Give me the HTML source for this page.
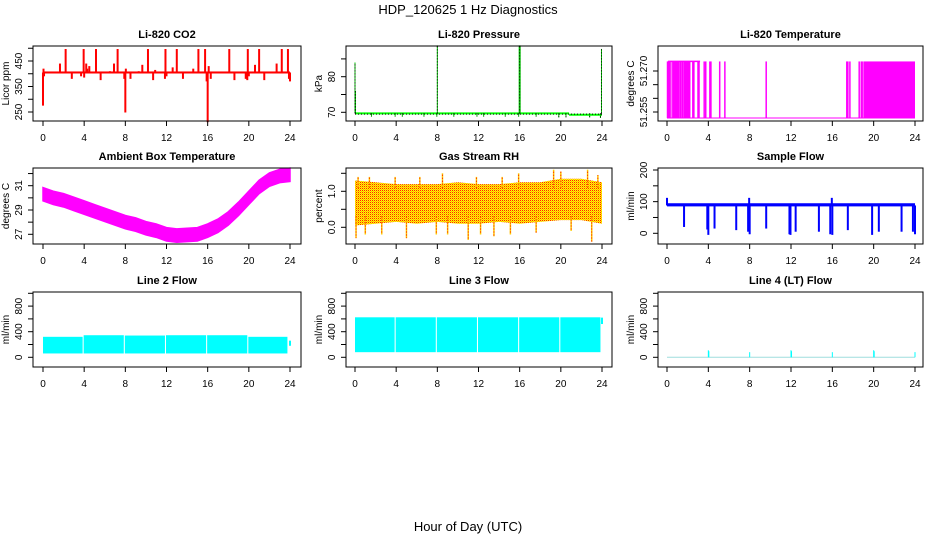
<!DOCTYPE html>
<html><head><meta charset="utf-8">
<style>
html,body{margin:0;padding:0;background:#fff;}
svg{display:block;font-family:"Liberation Sans",Arial,sans-serif;}
</style></head>
<body>
<svg id="chart" width="936" height="540" viewBox="0 0 936 540" xmlns="http://www.w3.org/2000/svg">
<defs>
<pattern id="rhpat" width="2" height="2" patternUnits="userSpaceOnUse">
<rect width="2" height="2" fill="#ffff00"/><rect width="1" height="1" fill="#ff2000"/><rect x="1" y="1" width="1" height="1" fill="#ffb000"/>
</pattern>
</defs>
<text x="468" y="14" text-anchor="middle" font-size="13">HDP_120625  1 Hz Diagnostics</text>
<text x="468" y="531" text-anchor="middle" font-size="13">Hour of Day (UTC)</text>
<g id="panels"></g>
</svg>
<script>
// ---- shared data ----
var hourTicks = [0,4,8,12,16,20,24];
// CO2
var co2Base = 405;
var co2SpikeHours = [0.0,0.05,0.1,1.65,2.2,2.8,3.7,3.95,4.0,4.2,4.3,4.5,5.15,5.6,6.5,6.9,7.25,7.9,8.0,8.05,8.5,9.3,9.65,10.2,10.7,10.9,11.85,11.9,12.0,12.6,13.0,13.6,14.6,15.1,15.75,15.9,16.0,16.1,16.3,18.1,18.6,19.7,19.85,19.9,20.0,20.6,21.0,21.5,22.7,23.2,23.8,23.9,24.0];
var co2SpikeVals  = [275,420,390,440,497,380,390,497,385,440,420,430,497,375,410,440,497,380,248,420,380,410,435,497,375,415,380,497,390,425,497,380,420,497,497,370,210,430,380,497,375,380,375,497,390,435,497,375,440,497,497,380,370];
// Pressure
var presBase = 69.7;
var presSpikeHours = [0.0,0.05,1.6,3.9,4.6,6.7,7.95,8.0,9.6,11.85,12.5,14.6,15.9,16.0,17.6,19.8,20.5,22.8,23.85,23.95];
var presSpikeVals  = [84,76,68.8,68.8,68.8,68.8,68.8,88.8,68.8,68.8,68.8,68.8,68.8,88.8,68.8,68.6,68.6,68.6,68.4,87.8];
// Li-820 temperature
var litLow = 51.2528, litHigh = 51.2735;
var litHours = [0.05,0.1,0.15,0.2,0.3,0.5,0.65,0.75,0.85,0.95,1.05,1.15,1.3,1.45,1.55,1.7,1.8,1.9,2.0,2.1,2.2,2.5,2.6,3.0,3.1,3.6,3.75,4.15,4.25,5.1,5.6,9.6,17.4,17.5,17.7,18.6,18.8,18.95];
var litDenseStart = 19.05, litDenseEnd = 24.0;
// Ambient box temperature
var ambHours = [0,1,2,3,4,5,6,7,8,9,10,11,12,13,14,15,16,17,18,19,20,21,22,23,24];
var ambMid   = [30.3,30.0,29.8,29.5,29.2,28.9,28.6,28.3,28.0,27.8,27.5,27.3,27.0,26.9,26.95,27.0,27.3,27.7,28.3,29.1,30.0,30.9,31.5,31.8,31.9];
// Gas stream RH
var rhHours = [0,2,4,6,8,10,12,14,16,18,20,22,24];
var rhUpper = [1.3,1.25,1.2,1.2,1.2,1.25,1.2,1.2,1.25,1.25,1.35,1.35,1.25];
var rhLower = [0.05,0.1,0.15,0.1,0.15,0.1,0.1,0.15,0.1,0.15,0.2,0.2,0.1];
var rhSpikeHours = [0.1,0.3,1.0,1.4,2.6,3.9,5.0,6.3,7.9,8.5,9.0,11.0,11.8,12.2,13.5,14.3,15.1,15.9,17.6,19.3,20.0,21.0,22.6,23.0,23.6];
var rhSpikeVals  = [-0.3,1.4,-0.2,1.4,-0.2,1.4,-0.3,1.4,-0.2,1.5,-0.2,-0.35,1.4,-0.2,-0.25,1.4,-0.2,1.5,-0.15,1.6,1.55,-0.1,1.6,-0.4,1.45];
// Sample flow
var sfBase = [85,95];
var sfDipHours = [0.0,1.65,3.9,4.0,4.6,6.7,7.85,7.95,8.0,9.6,11.85,11.95,12.45,14.7,15.8,15.95,16.0,17.5,19.85,20.5,22.7,23.8,24.0];
var sfDipVals  = [112,20,12,-5,15,10,5,112,-3,15,-3,-5,5,5,-3,112,-5,10,-5,5,5,5,-3];
// Line 2 flow
var l2Start = [0.0,3.95,7.95,11.95,15.95,19.95];
var l2End   = [3.85,7.85,11.85,15.85,19.85,23.75];
var l2Top   = [320,345,340,345,345,320];
var l2Bottom = 60;
// Line 3 flow
var l3Start = [0.0,3.95,7.95,11.95,15.95,19.95];
var l3End   = [3.85,7.85,11.85,15.85,19.85,23.85];
var l3Top   = [625,625,625,625,625,625];
var l3Bottom = 80;
// Line 4 flow
var l4SpikeHours = [4.0,4.05,8.0,12.0,12.05,16.0,20.0,20.05,24.0];
var l4SpikeVals  = [110,95,80,110,95,80,110,95,80];

// ---- layout ----
var cols = [{bl:33,br:301,x0:43,x24:290},{bl:346,br:612,x0:355,x24:602},{bl:658,br:923,x0:667,x24:915}];
var rows = [{t:46,b:121},{t:168,b:244},{t:292,b:367}];
var NS = "http://www.w3.org/2000/svg";
var root = document.getElementById('panels');
function mk(tag, attrs, parent){ var e=document.createElementNS(NS,tag); for(var k in attrs) e.setAttribute(k,attrs[k]); (parent||root).appendChild(e); return e; }

function panel(ci, ri, title, ylab, yref, yticks, ylabels, name){
  var c=cols[ci], r=rows[ri];
  var g=mk('g',{});
  
  
  var xs=function(h){return c.x0+(c.x24-c.x0)*h/24;};
  var ys=function(v){return yref[1]+(v-yref[0])*(yref[3]-yref[1])/(yref[2]-yref[0]);};
  var plot=mk('g',{},g);
  
  
  var box=mk('rect',{x:c.bl,y:r.t,width:c.br-c.bl,height:r.b-r.t,fill:'none',stroke:'#000','stroke-width':1},g);
  
  
  var t=mk('text',{x:(c.bl+c.br)/2,y:r.t-8,'text-anchor':'middle','font-size':11,'font-weight':'bold'},g);
  t.textContent=title;
  
  
  var xa=mk('g',{},g);
  
  
  mk('line',{x1:xs(0),x2:xs(24),y1:r.b,y2:r.b,stroke:'#000'},xa);
  hourTicks.forEach(function(h){
    mk('line',{x1:xs(h),x2:xs(h),y1:r.b,y2:r.b+5,stroke:'#000'},xa);
    var tl=mk('text',{x:xs(h),y:r.b+20,'text-anchor':'middle','font-size':10},xa);
    tl.textContent=h;
    
    
  });
  var ya=mk('g',{},g);
  
  
  mk('line',{x1:c.bl,x2:c.bl,y1:ys(yticks[0]),y2:ys(yticks[yticks.length-1]),stroke:'#000'},ya);
  yticks.forEach(function(v){ mk('line',{x1:c.bl-5,x2:c.bl,y1:ys(v),y2:ys(v),stroke:'#000'},ya); });
  ylabels.forEach(function(l){
    var y=ys(parseFloat(l)), x=c.bl-11;
    var tl=mk('text',{x:x,y:y,'text-anchor':'middle','font-size':10,transform:'rotate(-90 '+x+' '+y+')'},ya);
    tl.textContent=l;
    
    
  });
  var yx=c.bl-24, yy=(r.t+r.b)/2;
  var yl=mk('text',{x:yx,y:yy,'text-anchor':'middle','font-size':10,transform:'rotate(-90 '+yx+' '+yy+')'},g);
  yl.textContent=ylab;
  
  
  return {g:plot,xs:xs,ys:ys};
}
function vline(p,h,v0,v1,col,w,dash){ var a={x1:p.xs(h),x2:p.xs(h),y1:p.ys(v0),y2:p.ys(v1),stroke:col,'stroke-width':w||1}; if(dash)a['stroke-dasharray']=dash; return mk('line',a,p.g); }

// CO2
var p=panel(0,0,'Li-820 CO2','Licor ppm',[250,112,450,61],[250,300,350,400,450,500],['250','350','450'],'co2');
co2SpikeHours.forEach(function(h,i){ vline(p,h,co2Base,co2SpikeVals[i],'#ff0000',2); });
mk('rect',{x:p.xs(0),y:p.ys(co2Base+4),width:p.xs(24)-p.xs(0),height:p.ys(co2Base-4)-p.ys(co2Base+4),fill:'#ff0000'},p.g);

// Pressure
p=panel(1,0,'Li-820 Pressure','kPa',[70,112.3,80,76.7],[70,75,80,85],['70','80'],'pressure');
mk('line',{x1:p.xs(0),x2:p.xs(20.8),y1:p.ys(presBase),y2:p.ys(presBase),stroke:'#00ff00','stroke-width':2},p.g);
mk('line',{x1:p.xs(20.8),x2:p.xs(24),y1:p.ys(presBase-0.4),y2:p.ys(presBase-0.4),stroke:'#00ff00','stroke-width':2},p.g);
mk('line',{x1:p.xs(0),x2:p.xs(24),y1:p.ys(presBase-0.2),y2:p.ys(presBase-0.2),stroke:'#000','stroke-width':1,'stroke-dasharray':'1,2'},p.g);
presSpikeHours.forEach(function(h,i){ vline(p,h,presBase,presSpikeVals[i],'#00c000',i==13?2:1); vline(p,h,presBase,presSpikeVals[i],'#000',1,'1,2'); });

// Li-820 Temperature
p=panel(2,0,'Li-820 Temperature','degrees C',[51.255,112,51.270,71],[51.255,51.26,51.265,51.27],['51.255','51.270'],'li820-temperature');
mk('line',{x1:p.xs(0),x2:p.xs(24),y1:p.ys(litLow),y2:p.ys(litLow),stroke:'#ff00ff'},p.g);
litHours.forEach(function(h){ vline(p,h,litLow,litHigh,'#ff00ff',1.5); });
mk('rect',{x:p.xs(litDenseStart),y:p.ys(litHigh),width:p.xs(litDenseEnd)-p.xs(litDenseStart),height:p.ys(litLow)-p.ys(litHigh),fill:'#ff00ff'},p.g);
mk('line',{x1:p.xs(0.1),x2:p.xs(3.2),y1:p.ys(litHigh),y2:p.ys(litHigh),stroke:'#ff00ff','stroke-width':1.5},p.g);

// Ambient
p=panel(0,1,'Ambient Box Temperature','degrees C',[27,234.3,31,185.7],[27,28,29,30,31,32],['27','29','31'],'ambient-temperature');
var pts=[]; ambHours.forEach(function(h,i){pts.push(p.xs(h)+','+p.ys(ambMid[i]+0.55));});
for(var i=ambHours.length-1;i>=0;i--) pts.push(p.xs(ambHours[i])+','+p.ys(ambMid[i]-0.55));
mk('polygon',{points:pts.join(' '),fill:'#ff00ff',stroke:'#ff00ff','stroke-width':1.5},p.g);

// RH
p=panel(1,1,'Gas Stream RH','percent',[0,227.3,1,191.3],[0,0.5,1,1.5],['0.0','1.0'],'gas-stream-rh');
pts=[]; rhHours.forEach(function(h,i){pts.push(p.xs(h)+','+p.ys(rhUpper[i]));});
for(i=rhHours.length-1;i>=0;i--) pts.push(p.xs(rhHours[i])+','+p.ys(rhLower[i]));
mk('polygon',{points:pts.join(' '),fill:'url(#rhpat)'},p.g);
rhSpikeHours.forEach(function(h,i){ var v=rhSpikeVals[i]; vline(p,h,v>0.6?1.1:0.3,v,'#ffcc00',1.5); vline(p,h,v>0.6?1.1:0.3,v,'#ff0000',1,'1,2'); });

// Sample flow
p=panel(2,1,'Sample Flow','ml/min',[0,233.3,200,170],[0,50,100,150,200],['0','100','200'],'sample-flow');
mk('rect',{x:p.xs(0),y:p.ys(sfBase[1]),width:p.xs(24)-p.xs(0),height:p.ys(sfBase[0])-p.ys(sfBase[1]),fill:'#0000ff'},p.g);
sfDipHours.forEach(function(h,i){ vline(p,h,88,sfDipVals[i],'#0000ff',2); });

// Line 2 flow
p=panel(0,2,'Line 2 Flow','ml/min',[0,357.3,400,331.7],[0,200,400,600,800,1000],['0','400','800'],'line2-flow');
l2Start.forEach(function(s,i){ mk('rect',{x:p.xs(s),y:p.ys(l2Top[i]),width:p.xs(l2End[i])-p.xs(s),height:p.ys(l2Bottom)-p.ys(l2Top[i]),fill:'#00ffff'},p.g); });
vline(p,24,180,260,'#00ffff',2);

// Line 3 flow
p=panel(1,2,'Line 3 Flow','ml/min',[0,357.3,400,331.7],[0,200,400,600,800,1000],['0','400','800'],'line3-flow');
l3Start.forEach(function(s,i){ mk('rect',{x:p.xs(s),y:p.ys(l3Top[i]),width:p.xs(l3End[i])-p.xs(s),height:p.ys(l3Bottom)-p.ys(l3Top[i]),fill:'#00ffff'},p.g); });
vline(p,24,520,620,'#00ffff',2);

// Line 4 flow
p=panel(2,2,'Line 4 (LT) Flow','ml/min',[0,357.3,400,331.7],[0,200,400,600,800,1000],['0','400','800'],'line4-flow');
mk('line',{x1:p.xs(0),x2:p.xs(24),y1:p.ys(0),y2:p.ys(0),stroke:'#9fdede'},p.g);
l4SpikeHours.forEach(function(h,i){ vline(p,h,0,l4SpikeVals[i],'#00ffff',1); });
</script>
</body></html>
